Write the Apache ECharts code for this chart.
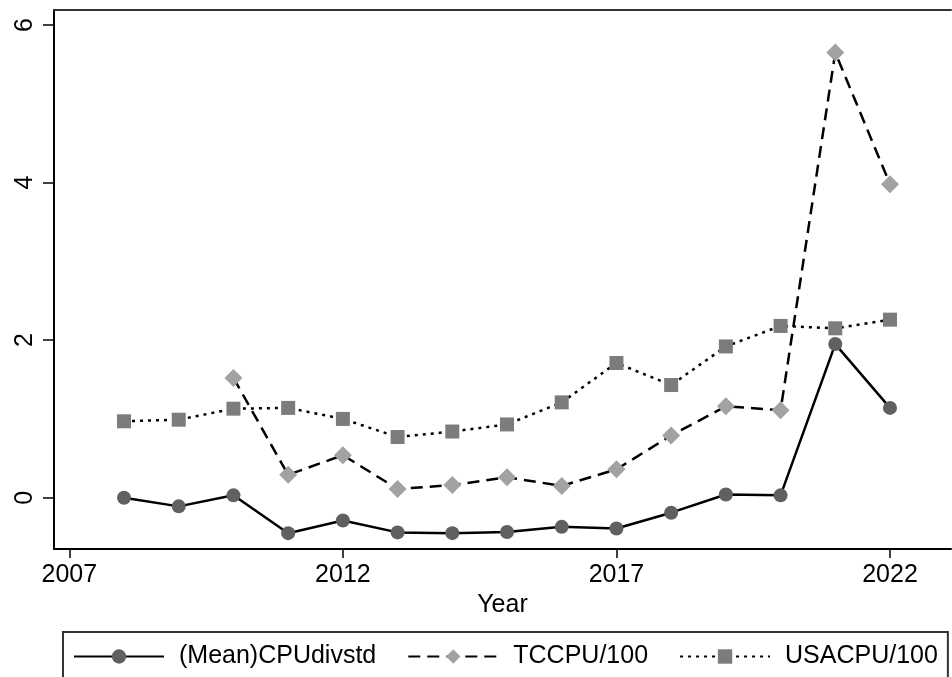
<!DOCTYPE html>
<html>
<head>
<meta charset="utf-8">
<script src="https://cdn.jsdelivr.net/npm/echarts@6/dist/echarts.min.js"></script>
<style>
  html, body { margin: 0; padding: 0; background: #fff; }
  #chart { width: 952px; height: 677px; }
</style>
</head>
<body>
<div id="chart"></div>
<script>
// Annual series, 2008-2022
const years = [2008, 2009, 2010, 2011, 2012, 2013, 2014, 2015, 2016, 2017, 2018, 2019, 2020, 2021, 2022];
const meanCPU = [0.00, -0.11, 0.03, -0.45, -0.29, -0.44, -0.45, -0.435, -0.37, -0.39, -0.19, 0.04, 0.03, 1.95, 1.14];
const tcCPU = [null, null, 1.52, 0.29, 0.54, 0.11, 0.16, 0.26, 0.15, 0.36, 0.79, 1.16, 1.11, 5.65, 3.98];
const usaCPU = [0.97, 0.99, 1.13, 1.14, 1.00, 0.77, 0.84, 0.93, 1.21, 1.71, 1.43, 1.92, 2.18, 2.15, 2.26];

const seriesNames = ['(Mean)CPUdivstd', 'TCCPU/100', 'USACPU/100'];
const xTicks = [2007, 2012, 2017, 2022];
const yTicks = [0, 2, 4, 6];

function pairs(vals) {
  return years.map((y, i) => [y, vals[i]]).filter(p => p[1] !== null);
}

const FONT = 'Liberation Sans, Arial, Helvetica, sans-serif';
const chart = echarts.init(document.getElementById('chart'), null, { renderer: 'canvas' });

chart.setOption({
  animation: false,
  backgroundColor: '#ffffff',
  grid: { left: 54, top: 10, right: 1, bottom: 128, containLabel: false },
  xAxis: [{
    type: 'value',
    min: 2006.72,
    max: 2023.115,
    name: 'Year',
    nameLocation: 'middle',
    nameGap: 41,
    nameTextStyle: { fontFamily: FONT, fontSize: 25, color: '#000' },
    axisLine: { show: true, onZero: false, lineStyle: { color: '#000', width: 2 } },
    axisTick: { show: true, length: 9, customValues: xTicks, lineStyle: { color: '#000', width: 1.5 } },
    axisLabel: { customValues: xTicks, margin: 14, fontFamily: FONT, fontSize: 25, color: '#000',
      formatter: v => String(Math.round(v)) },
    splitLine: { show: false }
  }, {
    type: 'value',
    position: 'top',
    min: 2006.72,
    max: 2023.115,
    axisLine: { show: true, onZero: false, lineStyle: { color: '#333', width: 2 } },
    axisTick: { show: false },
    axisLabel: { show: false },
    splitLine: { show: false }
  }],
  yAxis: {
    type: 'value',
    min: -0.651,
    max: 6.19,
    axisLine: { show: true, onZero: false, lineStyle: { color: '#000', width: 2 } },
    axisTick: { show: true, length: 11, customValues: yTicks, lineStyle: { color: '#000', width: 1.5 } },
    axisLabel: { customValues: yTicks, rotate: 90, margin: 16, fontFamily: FONT, fontSize: 25, color: '#000' },
    splitLine: { show: false }
  },
  legend: {
    left: 63,
    top: 632,
    width: 880,
    padding: [12, 10, 14, 10],
    itemGap: 31,
    itemWidth: 90,
    itemHeight: 18,
    borderColor: '#333',
    borderWidth: 2,
    textStyle: { fontFamily: FONT, fontSize: 25, color: '#000', padding: [0, 0, 0, 10] },
    data: seriesNames
  },
  series: [{
    name: seriesNames[0],
    type: 'line',
    data: pairs(meanCPU),
    symbol: 'circle',
    symbolSize: 14,
    itemStyle: { color: '#606060' },
    lineStyle: { color: '#000', width: 2.5, type: 'solid' },
    z: 3
  }, {
    name: seriesNames[1],
    type: 'line',
    data: pairs(tcCPU),
    symbol: 'diamond',
    symbolSize: 18,
    itemStyle: { color: '#a2a2a2' },
    lineStyle: { color: '#000', width: 2.5, type: [12, 7] },
    z: 2
  }, {
    name: seriesNames[2],
    type: 'line',
    data: pairs(usaCPU),
    symbol: 'rect',
    symbolSize: 14,
    itemStyle: { color: '#7c7c7c' },
    lineStyle: { color: '#000', width: 2.5, type: [3, 5] },
    z: 2
  }]
});
</script>
</body>
</html>
